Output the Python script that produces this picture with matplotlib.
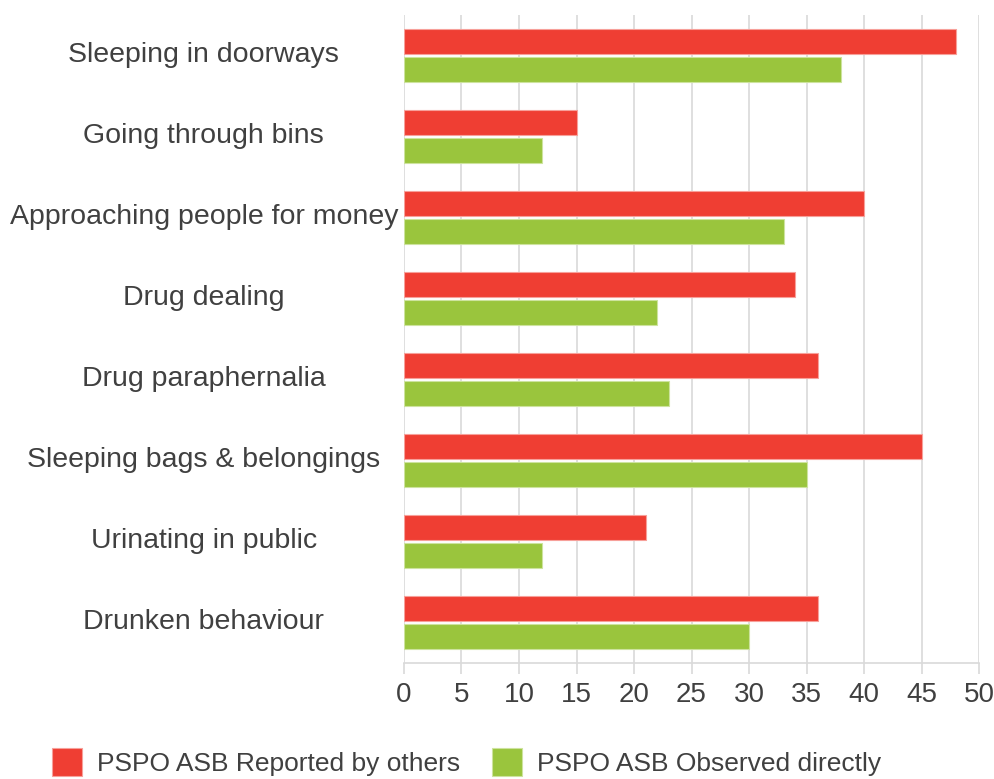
import matplotlib.pyplot as plt
import numpy as np

plt.rcParams['font.family'] = ['Liberation Sans', 'DejaVu Sans']

categories = ['Sleeping in doorways', 'Going through bins', 'Approaching people for money',
              'Drug dealing', 'Drug paraphernalia', 'Sleeping bags & belongings',
              'Urinating in public', 'Drunken behaviour']
reported = [48, 15, 40, 34, 36, 45, 21, 36]
observed = [38, 12, 33, 22, 23, 35, 12, 30]
series_names = ['PSPO ASB Reported by others', 'PSPO ASB Observed directly']
xticks = list(range(0, 55, 5))

red = '#EF3E33'
green = '#9AC53D'
text_col = '#404040'

fig = plt.figure(figsize=(9.95, 7.79), dpi=100)
ax = fig.add_axes([0.406, 0.149, 0.578, 0.832])

y = np.arange(len(categories))
h = 0.31
ax.barh(y - 0.172, reported, height=h, color=red, edgecolor='#F7A09A', linewidth=0.8,
        label=series_names[0], zorder=3)
ax.barh(y + 0.172, observed, height=h, color=green, edgecolor='#CDE39E', linewidth=0.8,
        label=series_names[1], zorder=3)

ax.set_xlim(0, 50)
ax.set_ylim(7.5, -0.5)
ax.set_xticks(xticks)
ax.set_xticklabels([str(t) for t in xticks], fontsize=20, color=text_col)
ax.tick_params(axis='x', length=8, color='#D9D9D9', width=1.2, pad=6)
ax.set_yticks([])
ax.grid(axis='x', color='#D9D9D9', linewidth=1.2, zorder=0)
for s in ['top', 'right', 'left']:
    ax.spines[s].set_visible(False)
ax.spines['bottom'].set_color('#D9D9D9')
ax.spines['bottom'].set_linewidth(1.2)

# category labels, centred in the left margin
for yi, cat in zip(y, categories):
    ax.text(-17.4, yi, cat, ha='center', va='center', fontsize=20.5, color=text_col,
            transform=ax.transData, clip_on=False)

fig.legend(loc='center left', bbox_to_anchor=(0.052, 0.022), ncol=2, frameon=False,
           fontsize=19, handlelength=1.14, handleheight=1.25, columnspacing=1.2,
           handletextpad=0.57, borderpad=0, borderaxespad=0, labelcolor=text_col)

fig.savefig('out.png', dpi=100)
